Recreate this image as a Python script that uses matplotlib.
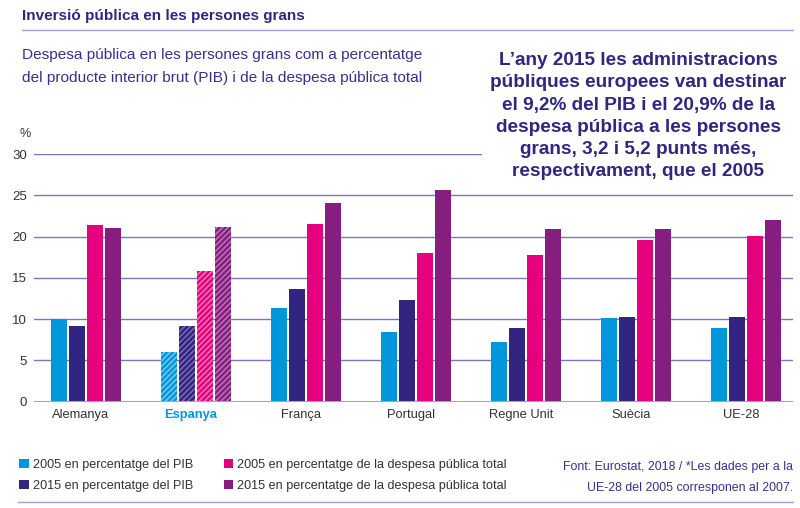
import numpy as np
import matplotlib
matplotlib.use("Agg")
import matplotlib.pyplot as plt
from matplotlib.patches import Rectangle
from matplotlib.lines import Line2D

plt.rcParams['font.family'] = ['Liberation Sans', 'DejaVu Sans']
plt.rcParams['hatch.linewidth'] = 1.0

# data
countries = ['Alemanya', 'Espanya', 'França', 'Portugal', 'Regne Unit', 'Suècia', 'UE-28']
pib_2005 = [10.0, 6.0, 11.3, 8.4, 7.2, 10.2, 8.9]
pib_2015 = [9.2, 9.2, 13.7, 12.3, 8.9, 10.3, 10.3]
desp_2005 = [21.4, 15.9, 21.5, 18.0, 17.8, 19.6, 20.1]
desp_2015 = [21.0, 21.2, 24.1, 25.6, 20.9, 20.9, 22.0]
series_labels = ['2005 en percentatge del PIB', '2015 en percentatge del PIB',
                 '2005 en percentatge de la despesa pública total',
                 '2015 en percentatge de la despesa pública total']
yticks = [0, 5, 10, 15, 20, 25, 30]

colors = ['#0096db', '#312580', '#e5007d', '#861e7f']
hatch_colors = ['#7fcdf0', '#7c72b8', '#f57fbf', '#c07ab9']
indigo = '#2f2780'
grid_col = '#7d74c2'
base_col = '#a59ed2'
txt_col = '#333333'

W, H = 800, 508
fig = plt.figure(figsize=(8, 5.08), dpi=100)


def fx(x):
    return x / W


def fy(y):
    return 1 - y / H


ax = fig.add_axes([fx(34), fy(401.7), (793 - 34) / W, 247.5 / H])

x = np.arange(len(countries))
step = 18 / 110
bw = 16 / 110
series = [pib_2005, pib_2015, desp_2005, desp_2015]
handles = []
for i, vals in enumerate(series):
    off = (i - 1.5) * step
    bars = ax.bar(x + off, vals, bw, color=colors[i], lw=0, zorder=3,
                  label=series_labels[i])
    handles.append(bars)
    # Espanya is hatched
    b = bars[1]
    b.set_hatch('//////')
    b.set_edgecolor(hatch_colors[i])
    b.set_linewidth(0)

ax.set_xlim(-0.477, 6.423)
ax.set_ylim(0, 30)
for v in yticks[1:]:
    ax.axhline(v, color=grid_col, lw=1, zorder=1)
ax.axhline(0, color=base_col, lw=2.2, zorder=4)

for s in ax.spines.values():
    s.set_visible(False)
ax.set_yticks(yticks)
ax.set_yticklabels([str(v) for v in yticks], fontsize=9.5, color=txt_col)
ax.tick_params(axis='y', length=0, pad=5)
ax.set_xticks(x - 0.05)
ax.set_xticklabels(countries, fontsize=9.3, color=txt_col)
ax.tick_params(axis='x', length=0, pad=5)
lab = ax.get_xticklabels()[1]
lab.set_color(colors[0])
lab.set_fontweight('bold')

fig.text(fx(20), fy(137), '%', fontsize=9, color=txt_col, va='baseline')

# header
fig.text(fx(22), fy(20), 'Inversió pública en les persones grans', fontsize=11,
         fontweight='bold', color=indigo, va='baseline')
fig.add_artist(Line2D([fx(22), fx(793)], [fy(30), fy(30)], color=base_col, lw=1))
fig.text(fx(22), fy(59.5), 'Despesa pública en les persones grans com a percentatge',
         fontsize=11.1, color='#3a2f90', va='baseline')
fig.text(fx(22), fy(82.5), 'del producte interior brut (PIB) i de la despesa pública total',
         fontsize=11.1, color='#3a2f90', va='baseline')

# highlight box over the top of the plot
fig.add_artist(Rectangle((fx(482), fy(185)), fx(800 - 482), 140 / H,
                         transform=fig.transFigure, facecolor='white',
                         edgecolor='none', zorder=1))
note = ["L’any 2015 les administracions",
        "públiques europees van destinar",
        "el 9,2% del PIB i el 20,9% de la",
        "despesa pública a les persones",
        "grans, 3,2 i 5,2 punts més,",
        "respectivament, que el 2005"]
for k, line in enumerate(note):
    fig.text(fx(638), fy(65 + k * 22.3), line, fontsize=13.7, fontweight='bold',
             color=indigo, ha='center', va='baseline', zorder=5)

# legend
fig.legend(handles=handles, loc='upper left', bbox_to_anchor=(fx(14), fy(454)),
           ncol=2, frameon=False, fontsize=9.1, handlelength=0.75, handleheight=0.75,
           handletextpad=0.35, columnspacing=2.4, labelspacing=0.7,
           labelcolor=txt_col, borderaxespad=0)

fig.text(fx(793), fy(470), 'Font: Eurostat, 2018 / *Les dades per a la', fontsize=8.9,
         color='#3a2f90', ha='right', va='baseline')
fig.text(fx(793), fy(491), 'UE-28 del 2005 corresponen al 2007.', fontsize=8.9,
         color='#3a2f90', ha='right', va='baseline')
fig.add_artist(Line2D([fx(18), fx(793)], [fy(502), fy(502)], color=base_col, lw=1))

fig.savefig('out.png', dpi=100)
